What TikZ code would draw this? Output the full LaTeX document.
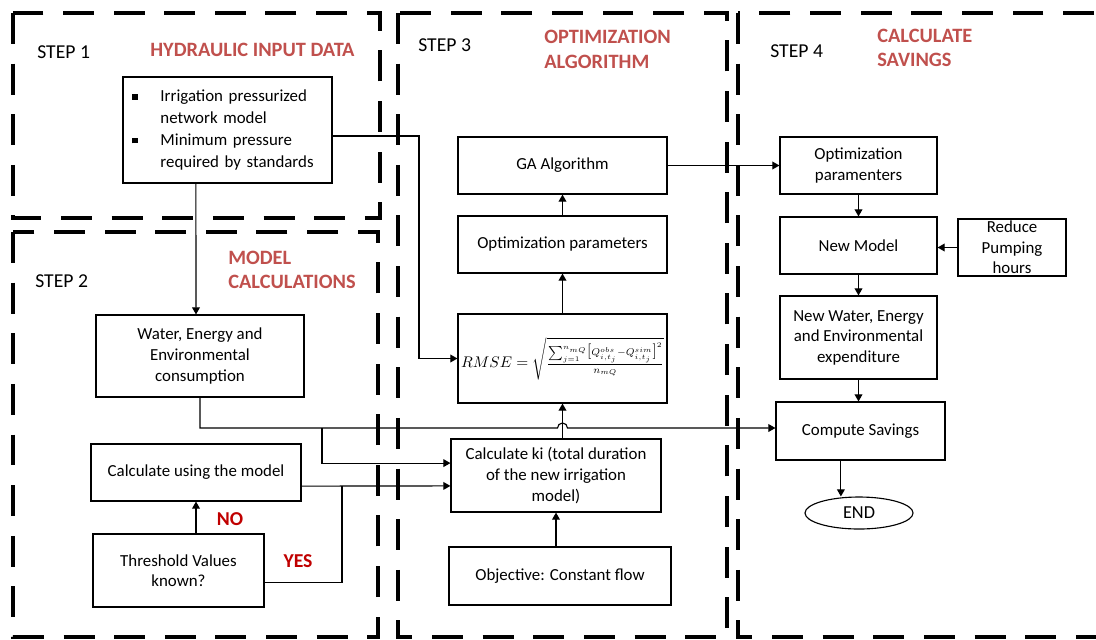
\documentclass[tikz,border=0pt]{standalone}
\usepackage{fontspec}
\setmainfont{Carlito}
\usetikzlibrary{arrows.meta,shapes.geometric}
\definecolor{headred}{RGB}{192,80,77}
\definecolor{answerred}{RGB}{192,0,0}

\begin{document}
\begin{tikzpicture}[x=0.025cm,y=-0.025cm,
  box/.style={draw,line width=0.8pt,inner sep=0pt,align=center,font=\fontsize{12}{14.6}\selectfont},
  stepframe/.style={line width=3.5pt,dash pattern=on 22pt off 14pt},
  steplabel/.style={anchor=west,inner sep=0pt,font=\fontsize{14}{17}\selectfont},
  heading/.style={anchor=west,inner sep=0pt,align=left,text=headred,font=\fontsize{14.5}{17.5}\selectfont\bfseries},
  answer/.style={inner sep=0pt,text=answerred,font=\fontsize{14}{14}\selectfont\bfseries},
  link/.style={line width=0.8pt},
  arr/.style={link,-{Triangle[length=5pt,width=5.5pt]}}]
\useasboundingbox (0,0) rectangle (1096,639);

% the four step frames
\draw[stepframe] (13,13) rectangle (380,218);
\draw[stepframe] (13,232) rectangle (378,637);
\draw[stepframe] (398,13) rectangle (727,637);
\draw[stepframe] (738,13) rectangle (1102,637);

\node[steplabel] (st1) at (37,52) {STEP 1};
\node[heading] (hd1) at (150,50) {HYDRAULIC INPUT DATA};
\node[steplabel] (st2) at (35,281) {STEP 2};
\node[heading] (hd2) at (228,270) {MODEL\\CALCULATIONS};
\node[steplabel] (st3) at (418,45) {STEP 3};
\node[heading] (hd3) at (544,49.5) {OPTIMIZATION\\ALGORITHM};
\node[steplabel] (st4) at (770,51) {STEP 4};
\node[heading] (hd4) at (877,48) {CALCULATE\\SAVINGS};

% step 1 and 2
\node[box,minimum width=5.225cm,minimum height=2.65cm,align=left,text width=4.95cm,
  font=\fontsize{12}{15.6}\selectfont] (inp) at (227.5,130)
  {\makebox[0.8cm][l]{\hspace{0.09cm}\raisebox{0.25ex}{\rule{4pt}{4pt}}}Irrigation pressurized\\
   \hspace*{0.8cm}network model\\
   \makebox[0.8cm][l]{\hspace{0.09cm}\raisebox{0.25ex}{\rule{4pt}{4pt}}}Minimum pressure\\
   \hspace*{0.8cm}required by standards};
\node[box,minimum width=5.2cm,minimum height=2.05cm] (water) at (200,356)
  {Water, Energy and\\Environmental\\consumption};
\node[box,minimum width=5.25cm,minimum height=1.425cm] (calc) at (196,472.5) {Calculate using the model};
\node[box,minimum width=4.275cm,minimum height=1.825cm] (thr) at (178.5,570.5) {Threshold Values\\known?};
\node[answer] (no) at (230,519) {NO};
\node[answer] (yes) at (298,561) {YES};

% step 3
\node[box,minimum width=5.225cm,minimum height=1.425cm] (ga) at (562.5,165.5) {GA Algorithm};
\node[box,minimum width=5.225cm,minimum height=1.425cm] (opt3) at (562.5,244.5) {Optimization parameters};
\node[box,minimum width=5.225cm,minimum height=2.225cm,font=\fontsize{10.5}{12}\selectfont] (rmse) at (562.5,358.5)
  {$RMSE=\sqrt{\frac{\sum_{j=1}^{n_{mQ}}\bigl[Q_{i,t_j}^{obs}-Q_{i,t_j}^{sim}\bigr]^2}{n_{mQ}}}$};
\node[box,minimum width=5.25cm,minimum height=1.825cm] (ki) at (556,475.5)
  {Calculate ki (total duration\\of the new irrigation\\model)};
\node[box,minimum width=5.55cm,minimum height=1.45cm] (obj) at (560,576) {Objective: Constant flow};

% step 4
\node[box,minimum width=3.925cm,minimum height=1.425cm] (opt4) at (858.5,165.5) {Optimization\\paramenters};
\node[box,minimum width=3.925cm,minimum height=1.425cm] (newm) at (858.5,245.5) {New Model};
\node[box,minimum width=2.7cm,minimum height=1.425cm] (reduce) at (1012,247.5) {Reduce\\Pumping\\hours};
\node[box,minimum width=3.925cm,minimum height=2.075cm] (newwater) at (858.5,337.5)
  {New Water, Energy\\and Environmental\\expenditure};
\node[box,minimum width=4.225cm,minimum height=1.45cm] (compute) at (860.5,431) {Compute Savings};
\node[box,ellipse,minimum width=2.7cm,minimum height=0.8cm,font=\fontsize{13}{14}\selectfont] (endn) at (859,513) {END};

% connectors
\coordinate (bend) at (419,136);
\coordinate (jn) at (200,428);
\coordinate (jn2) at (322,428);
\coordinate (jn3) at (342,486);
\coordinate (hop) at (562.5,428);
\draw[arr] ([xshift=-0.79cm]inp.south) -- ([xshift=-0.1cm]water.north);
\draw[arr] (inp.east |- bend) -- (bend) |- (rmse.west);
\draw[arr] (water.south) -- (jn) -- ([xshift=-0.125cm]hop) arc (180:360:5) -- (compute.west |- jn);
\draw[arr] (jn2) |- ([yshift=0.31cm]ki.west);
\draw[arr] ([yshift=-0.34cm]calc.east) -- ([yshift=-0.26cm]ki.west);
\draw[link] ([yshift=-0.29cm]thr.east) -| (jn3);
\draw[arr] (calc.south |- thr.north) -- (calc.south);
\draw[arr] (ki.south |- obj.north) -- (ki.south);
\draw[arr] (rmse.south |- ki.north) -- (rmse.south);
\draw[arr] (rmse.north) -- (opt3.south);
\draw[arr] (opt3.north) -- (ga.south);
\draw[arr] (ga.east) -- (opt4.west);
\draw[arr] (opt4.south) -- (newm.north);
\draw[arr] (reduce.west) -- (reduce.west -| newm.east);
\draw[arr] (newm.south) -- (newwater.north);
\draw[arr] (newwater.south) -- (newwater.south |- compute.north);
\draw[arr] ([xshift=-0.49cm]compute.south) -- ([xshift=-0.49cm]compute.south |- endn.north);
\end{tikzpicture}
\end{document}
